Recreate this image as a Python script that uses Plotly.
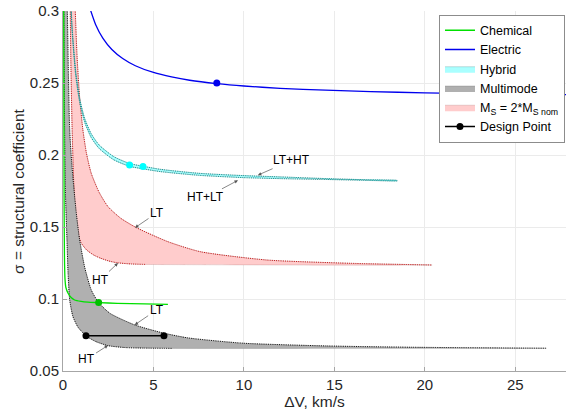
import plotly.graph_objects as go

# ---------------- data ----------------
# Chemical (green)
chem_x = [0.03, 0.04, 0.05, 0.06, 0.08, 0.11, 0.16, 0.28, 0.45, 0.64, 1.00, 1.38, 1.97, 3.00, 4.50, 5.80]
chem_y = [0.330, 0.300, 0.230, 0.170, 0.130, 0.114, 0.108, 0.1040, 0.1010, 0.0993, 0.0983, 0.0978, 0.0975, 0.0970, 0.0966, 0.0963]

# Electric (blue)
elec_x = [1.45, 1.80, 2.20, 2.70, 3.30, 4.00, 5.00, 6.00, 7.00, 8.50, 10.0, 12.0, 14.5, 17.0, 20.0, 23.5, 27.8]
elec_y = [0.3033, 0.2907, 0.2812, 0.2733, 0.2670, 0.2620, 0.2573, 0.2542, 0.2519, 0.2496, 0.2479, 0.2463, 0.2450, 0.2440, 0.2432, 0.2425, 0.2419]

# Hybrid band (cyan): LT+HT (upper) and HT+LT (lower)
hyb_x = [0.40, 0.50, 0.70, 0.92, 1.20, 1.56, 2.00, 2.80, 3.68, 4.42, 5.36, 7.50, 9.96, 12.0, 14.57, 16.5, 18.47]
hyb_up = [0.3175, 0.2895, 0.2585, 0.2393, 0.2253, 0.2147, 0.2069, 0.1989, 0.1941, 0.1922, 0.1901, 0.1873, 0.1857, 0.1848, 0.1836, 0.1829, 0.1824]
hyb_lo = [0.3145, 0.2865, 0.2555, 0.2367, 0.2227, 0.2121, 0.2045, 0.1967, 0.1921, 0.1904, 0.1885, 0.1859, 0.1843, 0.1836, 0.1830, 0.1825, 0.1820]

# Multimode band (gray)
mm_lt_x = [0.18, 0.24, 0.30, 0.37, 0.48, 0.61, 0.75, 0.92, 1.20, 1.56, 1.97, 2.60, 3.96, 5.50, 6.90, 9.96, 14.57, 19.2, 26.7]
mm_lt_y = [0.330, 0.300, 0.255, 0.2174, 0.1950, 0.1757, 0.1580, 0.1410, 0.1220, 0.1063, 0.0975, 0.0900, 0.0820, 0.0765, 0.0730, 0.0693, 0.0674, 0.0665, 0.0658]
mm_ht_x = [0.03, 0.05, 0.09, 0.13, 0.22, 0.28, 0.37, 0.55, 0.83, 1.29, 1.80, 2.49, 3.40, 4.50, 6.00]
mm_ht_y = [0.330, 0.300, 0.2174, 0.1757, 0.1410, 0.1180, 0.0993, 0.0878, 0.0804, 0.0743, 0.0705, 0.0676, 0.0663, 0.0659, 0.0657]

# M_S = 2*M_S nom band (red)
ms_lt_x = [0.62, 0.68, 0.78, 0.92, 1.10, 1.30, 1.56, 2.00, 2.49, 3.20, 4.05, 5.80, 7.57, 11.25, 15.86, 20.4]
ms_lt_y = [0.330, 0.300, 0.268, 0.240, 0.2174, 0.2010, 0.1873, 0.1740, 0.1641, 0.1560, 0.1496, 0.1398, 0.1329, 0.1271, 0.1248, 0.1236]
ms_ht_x = [0.37, 0.40, 0.44, 0.50, 0.58, 0.68, 0.80, 0.90, 1.00, 1.31, 1.70, 2.04, 2.50, 2.96, 3.80, 4.60]
ms_ht_y = [0.330, 0.300, 0.260, 0.220, 0.185, 0.160, 0.1475, 0.1425, 0.1390, 0.1340, 0.1305, 0.1285, 0.1265, 0.1252, 0.1243, 0.1240]

# Design points
dp_chem = ([1.97], [0.0975])
dp_elec = ([8.50], [0.2500])
dp_hyb = ([3.68, 4.42], [0.1930, 0.1920])
dp_mm = ([1.27, 5.58], [0.0745, 0.0745])

xticks = [0, 5, 10, 15, 20, 25]
yticks = [0.05, 0.1, 0.15, 0.2, 0.25, 0.3]
yticklabels = ["0.05", "0.1", "0.15", "0.2", "0.25", "0.3"]

FONT = "Liberation Sans, Arial, Helvetica, sans-serif"
DOT = "1px,1.2px"

fig = go.Figure()

def band(xu, yu, xl, yl, fillcol, edgecol, dotcol, name, rank):
    fig.add_trace(go.Scatter(
        x=xu + xl[::-1], y=yu + yl[::-1], mode="lines", fill="toself",
        fillcolor=fillcol, line=dict(color=edgecol, width=0.5, shape="spline", smoothing=0.6),
        name=name, legendrank=rank, hoverinfo="skip"))
    for xx, yy in ((xu, yu), (xl, yl)):
        fig.add_trace(go.Scatter(
            x=xx, y=yy, mode="lines", showlegend=False,
            line=dict(color=dotcol, width=0.9, dash=DOT, shape="spline", smoothing=0.6)))

band(ms_lt_x, ms_lt_y, ms_ht_x, ms_ht_y, "#ffcccc", "rgba(150,90,90,0.45)", "#c00000",
     "M<sub>S</sub> = 2*M<sub>S nom</sub>", 5)
band(mm_lt_x, mm_lt_y, mm_ht_x, mm_ht_y, "#b0b0b0", "rgba(90,90,90,0.5)", "#000000",
     "Multimode", 4)
band(hyb_x, hyb_up, hyb_x, hyb_lo, "#aaffff", "rgba(60,120,120,0.5)", "#008b8b",
     "Hybrid", 3)

fig.add_trace(go.Scatter(x=chem_x, y=chem_y, mode="lines", name="Chemical", legendrank=1,
                         line=dict(color="#00e000", width=1.3, shape="spline", smoothing=0.6)))
fig.add_trace(go.Scatter(x=elec_x, y=elec_y, mode="lines", name="Electric", legendrank=2,
                         line=dict(color="#0000ee", width=1.3, shape="spline", smoothing=0.6)))

fig.add_trace(go.Scatter(x=dp_chem[0], y=dp_chem[1], mode="markers", showlegend=False,
                         marker=dict(color="#00c000", size=7)))
fig.add_trace(go.Scatter(x=dp_elec[0], y=dp_elec[1], mode="markers", showlegend=False,
                         marker=dict(color="#0000ee", size=7)))
fig.add_trace(go.Scatter(x=dp_hyb[0], y=dp_hyb[1], mode="markers", showlegend=False,
                         marker=dict(color="#00ffff", size=7)))
fig.add_trace(go.Scatter(x=dp_mm[0], y=dp_mm[1], mode="lines+markers", name="Design Point",
                         legendrank=6, line=dict(color="black", width=1.5),
                         marker=dict(color="black", size=7)))

# annotations (tip in data coords, text offset in px)
ann = [
    ("LT+HT", 10.77, 0.1860, 34, -15),
    ("HT+LT", 9.67, 0.1824, -32, 17),
    ("LT", 3.98, 0.1495, 22, -15),
    ("HT", 3.04, 0.1250, -18, 17),
    ("LT", 3.96, 0.0820, 22, -15),
    ("HT", 2.49, 0.0678, -22, 14),
]
for t, x, y, ax, ay in ann:
    fig.add_annotation(x=x, y=y, text=t, ax=ax, ay=ay, showarrow=True,
                       arrowhead=2, arrowsize=1, arrowwidth=0.7, arrowcolor="#555555",
                       font=dict(size=12, color="black", family=FONT))

# y-axis title as rotated text placed beside the tick labels
fig.add_annotation(xref="paper", yref="paper", x=-0.0895, y=0.5, xanchor="center", yanchor="middle",
                   text="σ = structural coefficient", textangle=-90, showarrow=False,
                   font=dict(size=15.5, color="#262626", family=FONT))

fig.update_layout(
    width=568, height=413,
    margin=dict(l=63, r=2, t=11, b=42, autoexpand=False),
    paper_bgcolor="white", plot_bgcolor="white",
    font=dict(family=FONT, color="#262626", size=13),
    showlegend=True,
    legend=dict(x=0.998, y=0.99, xanchor="right", yanchor="top",
                bgcolor="white", bordercolor="#8c8c8c", borderwidth=1,
                font=dict(size=12.5, color="black", family=FONT),
                tracegroupgap=0, itemwidth=30),
)
fig.update_xaxes(range=[0, 27.8], tickvals=xticks, ticktext=[str(v) for v in xticks],
                 showgrid=True, gridcolor="#ebebeb", zeroline=False,
                 showline=True, linecolor="#a6a6a6", linewidth=1,
                 ticks="inside", ticklen=4, tickcolor="#a6a6a6",
                 tickfont=dict(size=15, color="#262626"),
                 title=dict(text="ΔV, km/s", font=dict(size=15.5, color="#262626"), standoff=3))
fig.update_yaxes(range=[0.05, 0.3], tickvals=yticks, ticktext=yticklabels,
                 showgrid=True, gridcolor="#ebebeb", zeroline=False,
                 showline=True, linecolor="#a6a6a6", linewidth=1,
                 ticks="inside", ticklen=4, tickcolor="#a6a6a6",
                 tickfont=dict(size=15, color="#262626"))

fig.write_html("out.html")
